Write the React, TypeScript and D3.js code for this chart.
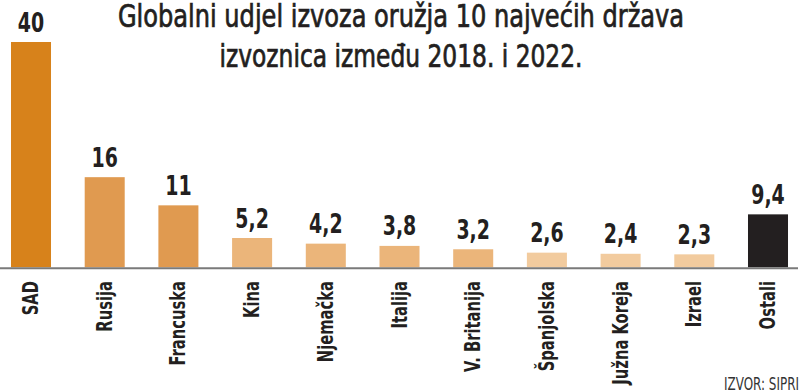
import React, { useLayoutEffect, useRef, useState } from "react";
import * as d3 from "d3";

const categories = ["SAD", "Rusija", "Francuska", "Kina", "Njemačka", "Italija", "V. Britanija", "Španjolska", "Južna Koreja", "Izrael", "Ostali"];
const values = [40, 16, 11, 5.2, 4.2, 3.8, 3.2, 2.6, 2.4, 2.3, 9.4];
const valueLabels = ["40", "16", "11", "5,2", "4,2", "3,8", "3,2", "2,6", "2,4", "2,3", "9,4"];
const barColors = ["#d7821b", "#e09a50", "#e09a50", "#ebb57a", "#ebb57a", "#ebb57a", "#ebb57a", "#f2cb9e", "#f2cb9e", "#f2cb9e", "#231f20"];
const titleLines = ["Globalni udjel izvoza oružja 10 najvećih država", "izvoznica između 2018. i 2022."];
const sourceText = "IZVOR: SIPRI";

const W = 800;
const H = 391;
const FONT = "'DejaVu Sans Condensed', 'DejaVu Sans', sans-serif";

function FitText(props: {
  x: number;
  y: number;
  width: number;
  anchor: "start" | "middle" | "end";
  fontSize: number;
  fill: string;
  weight?: string;
  stroke?: number;
  children: string;
}) {
  const ref = useRef<SVGTextElement>(null);
  const [s, setS] = useState(0.75);
  useLayoutEffect(() => {
    if (ref.current) {
      const len = ref.current.getComputedTextLength();
      if (len > 0) setS(props.width / len);
    }
  }, [props.children, props.width]);
  return (
    <text
      ref={ref}
      transform={`translate(${props.x},${props.y}) scale(${s},1)`}
      textAnchor={props.anchor}
      fontFamily={FONT}
      fontSize={props.fontSize}
      fontWeight={props.weight || "normal"}
      fill={props.fill}
      stroke={props.stroke ? props.fill : "none"}
      strokeWidth={props.stroke || 0}
    >
      {props.children}
    </text>
  );
}

export default function App() {
  const x = d3
    .scaleBand<string>()
    .domain(categories)
    .range([-5.85, 804.85])
    .paddingInner(0.457)
    .paddingOuter(0.2285);
  const y = d3.scaleLinear().domain([0, 40]).range([267.3, 42]);
  const cx = (c: string) => (x(c) as number) + x.bandwidth() / 2;

  return (
    <svg width={W} height={H} style={{ display: "block", position: "absolute", left: 0, top: 0 }}>
      <rect width={W} height={H} fill="#ffffff" />
      <FitText x={401} y={27} width={566} anchor="middle" fontSize={31.5} fill="#231f20" stroke={0.7}>
        {titleLines[0]}
      </FitText>
      <FitText x={401} y={67} width={363} anchor="middle" fontSize={31.5} fill="#231f20" stroke={0.7}>
        {titleLines[1]}
      </FitText>
      <g>
        {categories.map((c, i) => (
          <rect
            key={c}
            x={x(c)}
            y={y(values[i])}
            width={x.bandwidth()}
            height={y(0) - y(values[i])}
            fill={barColors[i]}
          />
        ))}
      </g>
      <line x1={0} x2={798} y1={268.3} y2={268.3} stroke="#7a7a7a" strokeWidth={2} />
      <g fontFamily={FONT} fill="#231f20" fontWeight="bold">
        {categories.map((c, i) => (
          <text
            key={c}
            transform={`translate(${cx(c)},${y(values[i]) - 10.5}) scale(0.78,1)`}
            textAnchor="middle"
            fontSize={27}
          >
            {valueLabels[i]}
          </text>
        ))}
      </g>
      <g fontFamily={FONT} fill="#231f20" fontWeight="bold">
        {categories.map((c) => (
          <text
            key={c}
            transform={`translate(${cx(c) + 7},281) rotate(-90) scale(0.8,1)`}
            textAnchor="end"
            fontSize={20.5}
          >
            {c}
          </text>
        ))}
      </g>
      <FitText x={799} y={390} width={75} anchor="end" fontSize={17.5} fill="#333333">
        {sourceText}
      </FitText>
    </svg>
  );
}
